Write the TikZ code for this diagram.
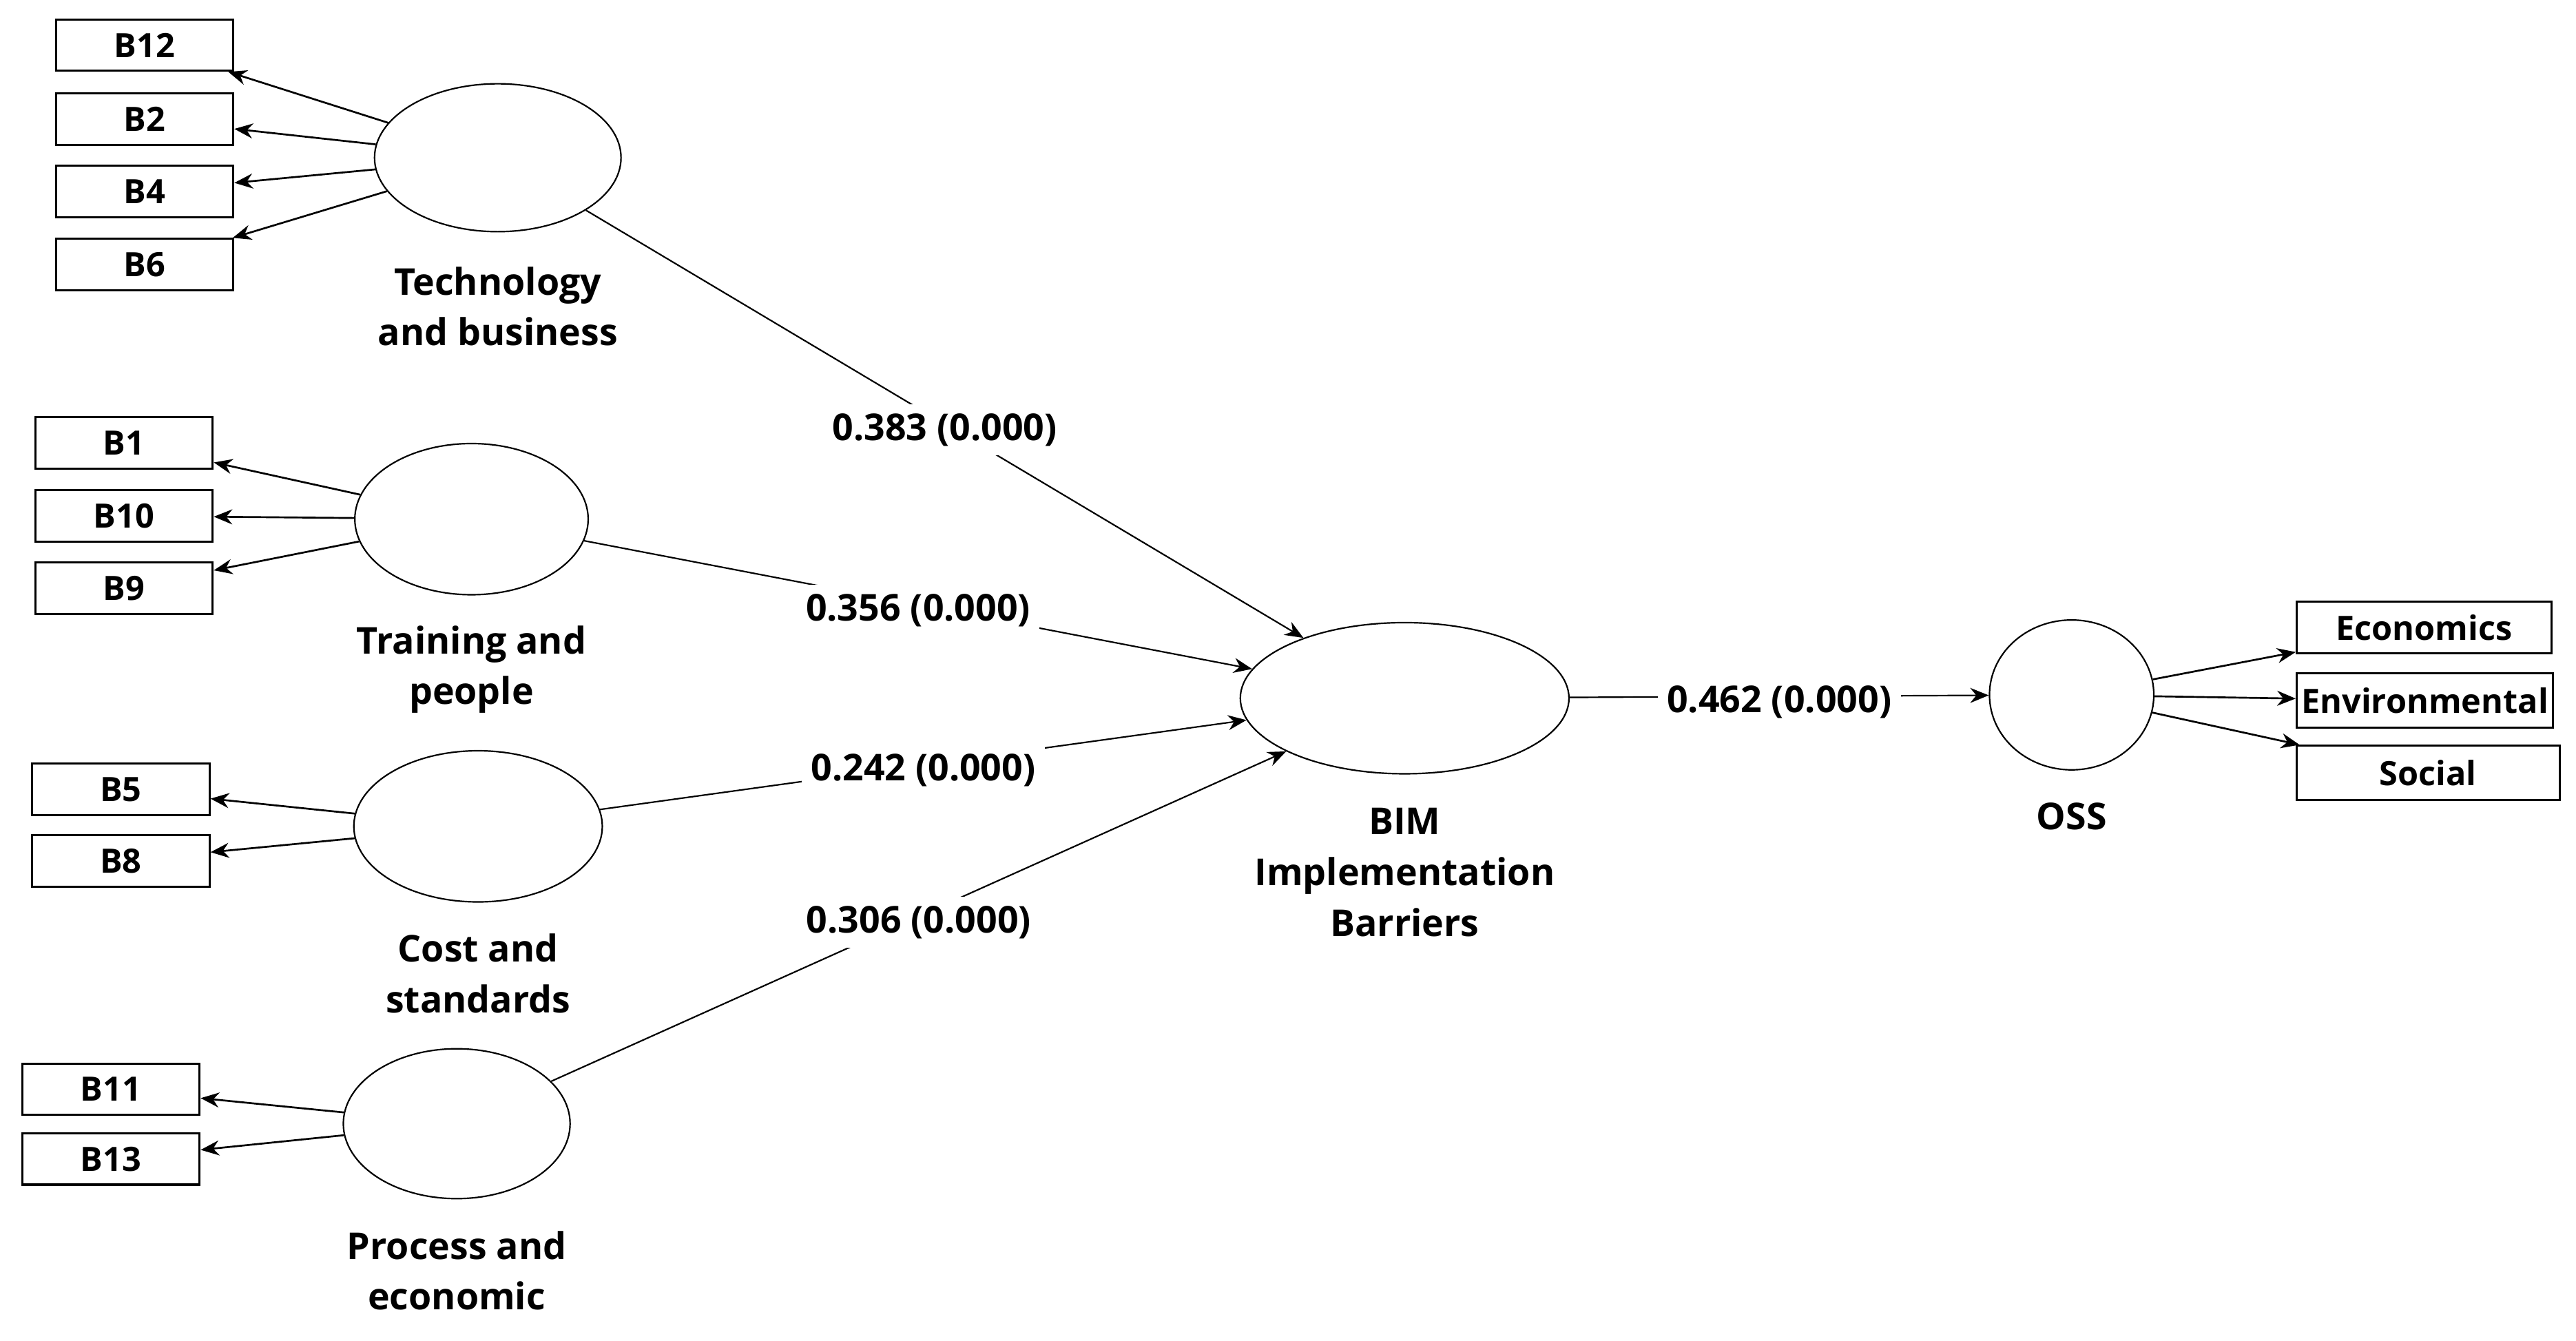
\documentclass[tikz,border=0pt]{standalone}
\usepackage{fontspec}
\setmainfont{Open Sans}
\usetikzlibrary{arrows.meta,shapes.geometric}
\tikzset{
  itembox/.style = {draw,line width=0.9pt,minimum width=2.7cm,minimum height=0.78cm,inner sep=0pt,font=\fontsize{14.5}{17}\selectfont\bfseries},
  latent/.style  = {draw,ellipse,line width=0.65pt,inner sep=0pt},
  latname/.style = {align=center,font=\fontsize{16}{22}\selectfont\bfseries},
  loadarr/.style = {-{Stealth[length=8pt,width=6.5pt]},line width=0.8pt},
  patharr/.style = {-{Stealth[length=8pt,width=6.5pt]},line width=0.65pt},
  coeflbl/.style = {fill=white,inner sep=4pt,yshift=-2.5pt,font=\fontsize{16}{19}\selectfont\bfseries}
}

\begin{document}
\begin{tikzpicture}[x=0.025cm,y=-0.025cm]
  \useasboundingbox (0,0) rectangle (1568,816);
  \node[latent,minimum width=3.75cm,minimum height=2.25cm] (tech) at (303,96) {};
  \node[latent,minimum width=3.55cm,minimum height=2.3cm]  (train) at (287,316) {};
  \node[latent,minimum width=3.78cm,minimum height=2.3cm]  (cost) at (291,503) {};
  \node[latent,minimum width=3.45cm,minimum height=2.28cm] (proc) at (278,684) {};
  \node[latent,minimum width=5cm,minimum height=2.3cm]     (bim) at (855,425) {};
  \node[latent,minimum width=2.5cm,minimum height=2.28cm]  (oss) at (1261,423) {};
  \node[latname] (techname)  at (303,186.5) {Technology\\and business};
  \node[latname] (trainname) at (287,407.5) {Training and\\people};
  \node[latname] (costname)  at (291,592.5) {Cost and\\standards};
  \node[latname] (procname)  at (278,773.5) {Process and\\economic};
  \node[latname] (bimname)   at (855,531)   {BIM\\Implementation\\Barriers};
  \node[latname] (ossname)   at (1261,497)  {OSS};
  \node[itembox] (b12) at (88,27.5)  {B12};
  \node[itembox] (b2)  at (88,72.5)  {B2};
  \node[itembox] (b4)  at (88,116.5) {B4};
  \node[itembox] (b6)  at (88,161)   {B6};
  \node[itembox] (b1)  at (75.5,269.5) {B1};
  \node[itembox] (b10) at (75.5,314)   {B10};
  \node[itembox] (b9)  at (75.5,358)   {B9};
  \node[itembox] (b5)  at (73.5,480.5) {B5};
  \node[itembox] (b8)  at (73.5,524)   {B8};
  \node[itembox] (b11) at (67.5,663)   {B11};
  \node[itembox] (b13) at (67.5,705.5) {B13};
  \node[itembox,minimum width=3.875cm] (econ) at (1475.5,382) {Economics};
  \node[itembox,minimum width=3.9cm,minimum height=0.825cm] (env) at (1476,426.5) {Environmental};
  \node[itembox,minimum width=4cm,minimum height=0.825cm] (soc) at (1478,470.5) {Social};
  \foreach \b in {b12,b2,b4,b6} \draw[loadarr] (tech) -- (\b);
  \foreach \b in {b1,b10,b9} \draw[loadarr] (train) -- (\b);
  \foreach \b in {b5,b8} \draw[loadarr] (cost) -- (\b);
  \foreach \b in {b11,b13} \draw[loadarr] (proc) -- (\b);
  \foreach \b in {econ,env,soc} \draw[loadarr] (oss) -- (\b);
  \draw[patharr] (tech)  -- node[coeflbl] {0.383 (0.000)} (bim);
  \draw[patharr] (train) -- node[coeflbl] {0.356 (0.000)} (bim);
  \draw[patharr] (cost)  -- node[coeflbl] {0.242 (0.000)} (bim);
  \draw[patharr] (proc)  -- node[coeflbl] {0.306 (0.000)} (bim);
  \draw[patharr] (bim)   -- node[coeflbl] {0.462 (0.000)} (oss);
\end{tikzpicture}
\end{document}
